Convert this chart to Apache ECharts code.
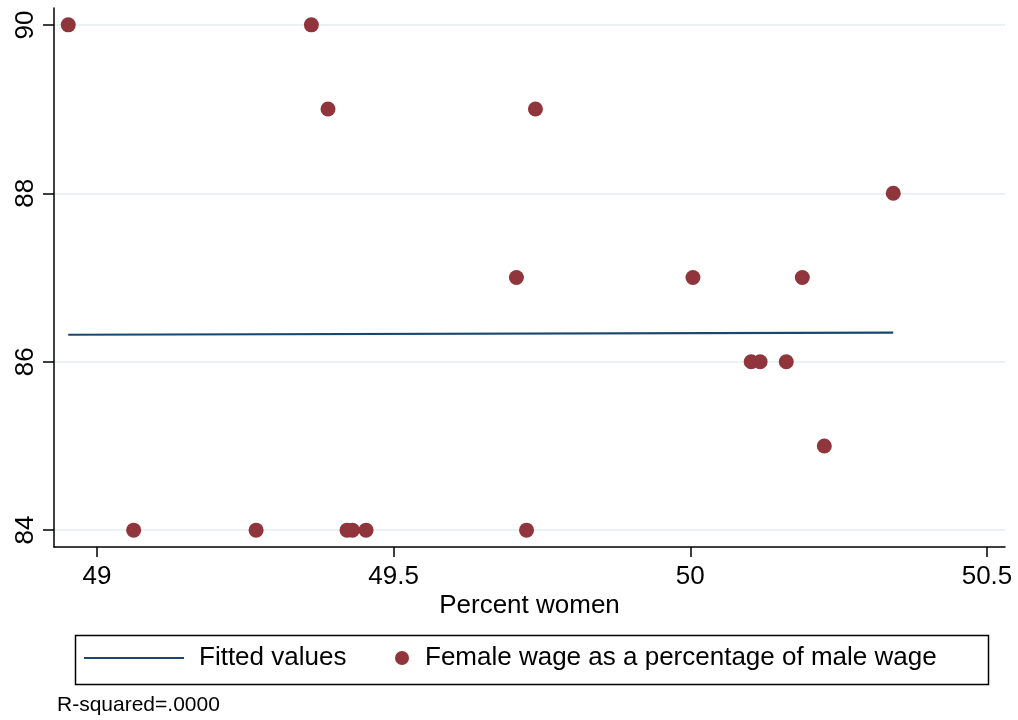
<!DOCTYPE html>
<html>
<head>
<meta charset="utf-8">
<script src="https://cdn.jsdelivr.net/npm/echarts@6/dist/echarts.min.js"></script>
<style>
  html, body { margin: 0; padding: 0; background: #fff; }
  #chart { width: 1018px; height: 720px; }
</style>
</head>
<body>
<div id="chart"></div>
<script>
(function () {
  // percent women vs female wage as % of male wage
  var percentWomen = [48.954, 49.064, 49.270, 49.363, 49.391, 49.423, 49.432, 49.455,
    49.708, 49.725, 49.740, 50.005, 50.103, 50.118, 50.162, 50.189, 50.226, 50.342];
  var wageRatio = [90, 84, 84, 90, 89, 84, 84, 84,
    87, 84, 89, 87, 86, 86, 86, 87, 85, 88];
  var fitX = [48.954, 50.342];
  var fitY = [86.32, 86.345];
  var xTicks = [49, 49.5, 50, 50.5];
  var yTicks = [84, 86, 88, 90];

  var FONT = "Liberation Sans, Arial, Helvetica, sans-serif";
  var NAVY = "#1a476f";
  var MAROON = "#90353b";

  var points = percentWomen.map(function (x, i) { return [x, wageRatio[i]]; });
  var fitted = fitX.map(function (x, i) { return [x, fitY[i]]; });

  var chart = echarts.init(document.getElementById("chart"), null, { renderer: "canvas" });

  chart.setOption({
    animation: false,
    backgroundColor: "#fff",
    textStyle: { fontFamily: FONT },
    title: {
      text: "R-squared=.0000",
      left: 57, top: 695, padding: 0,
      textStyle: { fontFamily: FONT, fontSize: 21, fontWeight: "normal", color: "#000" }
    },
    grid: [
      // data area
      { left: 54, right: 13, top: 8, bottom: 173 },
      // y ticks / gridlines
      { left: 54, right: 13, top: 25, bottom: 190 },
      // x ticks
      { left: 97, right: 31, top: 8, bottom: 173 }
    ],
    xAxis: [
      {
        gridIndex: 0, type: "value", min: 48.93, max: 50.53,
        name: "Percent women", nameLocation: "middle", nameGap: 46,
        nameTextStyle: { fontFamily: FONT, fontSize: 26, color: "#000" },
        axisLine: { onZero: false, lineStyle: { color: "#000", width: 1.5 } },
        axisTick: { show: false }, axisLabel: { show: false }, splitLine: { show: false }
      },
      {
        gridIndex: 1, type: "value", min: 48.93, max: 50.53, show: false
      },
      {
        gridIndex: 2, type: "value", min: xTicks[0], max: xTicks[xTicks.length - 1], interval: 0.5,
        axisLine: { show: false },
        axisTick: { show: true, length: 10, lineStyle: { color: "#000", width: 1.5 } },
        axisLabel: {
          fontFamily: FONT, fontSize: 26, color: "#000", margin: 17,
          formatter: function (v) { return String(v); }
        },
        splitLine: { show: false }
      }
    ],
    yAxis: [
      {
        gridIndex: 0, type: "value", min: 83.8, max: 90.2,
        axisLine: { onZero: false, lineStyle: { color: "#000", width: 1.5 } },
        axisTick: { show: false }, axisLabel: { show: false }, splitLine: { show: false }
      },
      {
        gridIndex: 1, type: "value", min: yTicks[0], max: yTicks[yTicks.length - 1], interval: 2,
        axisLine: { show: false },
        axisTick: { show: true, length: 11, lineStyle: { color: "#000", width: 1.5 } },
        axisLabel: { fontFamily: FONT, fontSize: 26, color: "#000", rotate: 90, margin: 15 },
        splitLine: { show: true, lineStyle: { color: "#eaf2f3", width: 2 } }
      },
      {
        gridIndex: 2, type: "value", min: 83.8, max: 90.2, show: false
      }
    ],
    legend: [
      {
        data: [{ name: "Fitted values", icon: "path://M0,0H100V2H0Z" }],
        left: 84, top: 645, padding: 0,
        itemWidth: 100, itemHeight: 2,
        textStyle: { fontFamily: FONT, fontSize: 26, color: "#000", padding: [0, 0, 0, 10] }
      },
      {
        data: ["Female wage as a percentage of male wage"],
        left: 395, top: 645, padding: 0,
        itemWidth: 14, itemHeight: 14,
        textStyle: { fontFamily: FONT, fontSize: 26, color: "#000", padding: [0, 0, 0, 11] }
      }
    ],
    graphic: [
      {
        type: "rect", left: 73, top: 633,
        shape: { width: 913, height: 49 },
        style: { fill: "none", stroke: "#000", lineWidth: 1.5 },
        z: -1
      }
    ],
    series: [
      {
        name: "Fitted values", type: "line", xAxisIndex: 0, yAxisIndex: 0,
        data: fitted, symbol: "none",
        lineStyle: { color: NAVY, width: 2.2 }, itemStyle: { color: NAVY },
        z: 3
      },
      {
        name: "Female wage as a percentage of male wage", type: "scatter",
        xAxisIndex: 0, yAxisIndex: 0,
        data: points, symbol: "circle", symbolSize: 15,
        itemStyle: { color: MAROON, opacity: 1 },
        z: 4
      }
    ]
  });
})();
</script>
</body>
</html>
